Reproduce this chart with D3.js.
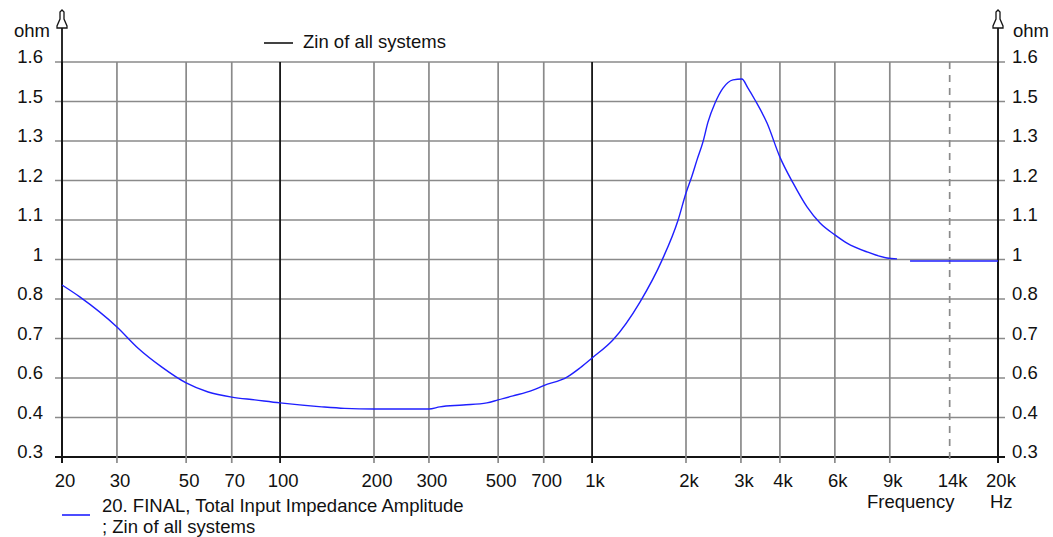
<!DOCTYPE html>
<html>
<head>
<meta charset="utf-8">
<script src="https://cdn.jsdelivr.net/npm/d3@7"></script>
<style>
  html, body { margin: 0; padding: 0; background: #fff; }
  svg { display: block; }
  text { font-family: "Liberation Sans", Arial, sans-serif; font-size: 18.5px; fill: #111; }
</style>
</head>
<body>
<svg id="chart" width="1053" height="537"></svg>
<script>
// Impedance curve: frequency (Hz) and |Z| (ohm); null marks the break in the trace
const freqHz = [20, 22.8, 30, 35, 41.8, 50, 58.8, 70, 83, 100, 136, 161, 200, 300, 325, 386, 460, 500, 558, 646, 700, 831, 914, 1000, 1166, 1424, 1676, 1887, 2000, 2090, 2168, 2267, 2352, 2478, 2628, 2830, 3020, 3160, 3328, 3637, 4000, 4406, 4885, 5378, 6000, 6561, 7608, 8812, 9490, 10000, 10450, 20000];
const zinOhm = [0.866, 0.827, 0.728, 0.659, 0.596, 0.544, 0.514, 0.497, 0.488, 0.478, 0.465, 0.460, 0.458, 0.458, 0.465, 0.471, 0.478, 0.488, 0.501, 0.520, 0.535, 0.563, 0.593, 0.626, 0.685, 0.810, 0.948, 1.080, 1.169, 1.225, 1.277, 1.337, 1.402, 1.465, 1.514, 1.541, 1.544, 1.514, 1.475, 1.399, 1.287, 1.202, 1.123, 1.070, 1.031, 1.004, 0.975, 0.955, 0.952, null, 0.945, 0.945];

// Axis ticks
const xTickValues = [20, 30, 50, 70, 100, 200, 300, 500, 700, 1000, 2000, 3000, 4000, 6000, 9000, 14000, 20000];
const xTickLabels = ["20", "30", "50", "70", "100", "200", "300", "500", "700", "1k", "2k", "3k", "4k", "6k", "9k", "14k", "20k"];
const xDecades = [100, 1000];
const xDashed = [14000];
const yTickValues = [0.3, 0.43, 0.56, 0.69, 0.82, 0.95, 1.08, 1.21, 1.34, 1.47, 1.6];
const yTickLabels = ["0.3", "0.4", "0.6", "0.7", "0.8", "1", "1.1", "1.2", "1.3", "1.5", "1.6"];

const seriesName = "20. FINAL, Total Input Impedance Amplitude";
const seriesNote = "; Zin of all systems";
const groupName = "Zin of all systems";

const svg = d3.select("#chart");
const plotLeft = 62, plotRight = 998, plotTop = 62, plotBottom = 457;

const x = d3.scaleLog().domain([20, 20000]).range([plotLeft, plotRight]);
const y = d3.scaleLinear().domain([0.3, 1.6]).range([plotBottom, plotTop]);

const gridColor = "#8a8a8a";
const axisColor = "#141414";

// horizontal grid + left/right tick stubs
const gy = svg.append("g");
yTickValues.forEach(v => {
  gy.append("line")
    .attr("x1", plotLeft - 7).attr("x2", plotRight + 7)
    .attr("y1", y(v)).attr("y2", y(v))
    .attr("stroke", v === 0.3 ? axisColor : gridColor)
    .attr("stroke-width", v === 0.3 ? 1.8 : 1.7);
});

// vertical grid
const gx = svg.append("g");
xTickValues.forEach(v => {
  const isEdge = v === 20 || v === 20000;
  const isDecade = xDecades.includes(v);
  const isDash = xDashed.includes(v);
  gx.append("line")
    .attr("x1", x(v)).attr("x2", x(v))
    .attr("y1", plotTop)
    .attr("y2", plotBottom + 6)
    .attr("stroke", isEdge || isDecade ? axisColor : gridColor)
    .attr("stroke-width", isEdge || isDecade ? 1.8 : 1.7)
    .attr("stroke-dasharray", isDash ? "7,6" : null);
});

// y axes extending to the arrow heads
[plotLeft, plotRight].forEach(ax => {
  svg.append("line")
    .attr("x1", ax).attr("x2", ax)
    .attr("y1", 28).attr("y2", plotBottom + 6)
    .attr("stroke", axisColor).attr("stroke-width", 1.8);
  svg.append("path")
    .attr("d", `M${ax},10 L${ax - 2},12 L${ax - 2},19 L${ax - 5},26 L${ax - 5},28 L${ax + 5},28 L${ax + 5},26 L${ax + 2},19 L${ax + 2},12 Z`)
    .attr("fill", "#fff").attr("stroke", axisColor).attr("stroke-width", 1.3);
});

// y tick labels on both sides
yTickValues.forEach((v, i) => {
  svg.append("text").attr("x", 43).attr("y", y(v) + 1)
    .attr("text-anchor", "end").text(yTickLabels[i]);
  svg.append("text").attr("x", 1012).attr("y", y(v) + 1)
    .attr("text-anchor", "start").text(yTickLabels[i]);
});
svg.append("text").attr("x", 50).attr("y", 37).attr("text-anchor", "end").text("ohm");
svg.append("text").attr("x", 1013).attr("y", 37).attr("text-anchor", "start").text("ohm");

// x tick labels
xTickValues.forEach((v, i) => {
  svg.append("text").attr("x", x(v) + 3).attr("y", 487)
    .attr("text-anchor", "middle").text(xTickLabels[i]);
});
svg.append("text").attr("x", 867).attr("y", 508).text("Frequency");
svg.append("text").attr("x", 990).attr("y", 508).text("Hz");

// impedance trace
const pts = freqHz.map((f, i) => ({ f, z: zinOhm[i] }));
const line = d3.line()
  .defined(d => d.z !== null)
  .x(d => x(d.f)).y(d => y(d.z))
  .curve(d3.curveMonotoneX);
svg.append("path").datum(pts)
  .attr("d", line)
  .attr("fill", "none").attr("stroke", "#1f1fff").attr("stroke-width", 1.4);

// legends
svg.append("line").attr("x1", 264).attr("x2", 293).attr("y1", 43).attr("y2", 43)
  .attr("stroke", axisColor).attr("stroke-width", 1.6);
svg.append("text").attr("x", 303).attr("y", 48).text(groupName);

svg.append("line").attr("x1", 62).attr("x2", 90).attr("y1", 515).attr("y2", 515)
  .attr("stroke", "#1f1fff").attr("stroke-width", 1.6);
svg.append("text").attr("x", 102).attr("y", 512).text(seriesName);
svg.append("text").attr("x", 102).attr("y", 533).text(seriesNote);
</script>
</body>
</html>
